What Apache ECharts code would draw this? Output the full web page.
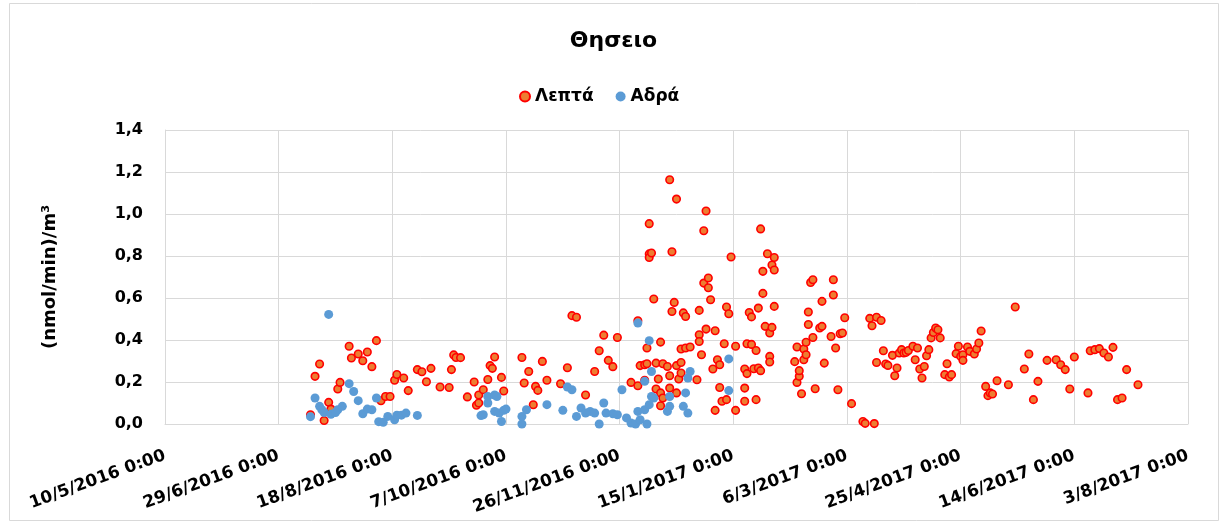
<!DOCTYPE html>
<html>
<head>
<meta charset="utf-8">
<script src="https://cdn.jsdelivr.net/npm/echarts@6/dist/echarts.min.js"></script>
<style>
html,body{margin:0;padding:0;background:#fff;}
#chart{width:1227px;height:523px;}
</style>
</head>
<body>
<div id="chart"></div>
<script>
// Dates are Excel serial day numbers (42500 = 10/5/2016)
const xTickMin = 42500, xTickMax = 42950, xTickStep = 50;
const seriesNames = ['Λεπτά', 'Αδρά'];

const leptaDates = [42564,42566,42568,42570,42572,42573,42576,42577,42581,42582,42585,42587,42589,42591,42593,42595,42597,42599,42601,42602,42605,42607,42611,42613,42615,42617,42621,42625,42626,42627,42628,42630,42633,42636,42637,42638,42638,42640,42642,42643,42644,42645,42648,42649,42657,42658,42660,42662,42663,42664,42666,42668,42674,42677,42679,42681,42685,42689,42691,42693,42695,42697,42699,42705,42708,42708,42709,42711,42711,42712,42712,42713,42713,42714,42713,42715,42716,42716,42717,42718,42718,42719,42718,42719,42721,42722,42722,42722,42723,42723,42724,42725,42725,42725,42726,42727,42727,42727,42728,42729,42729,42731,42734,42735,42735,42735,42736,42737,42737,42738,42738,42739,42739,42740,42741,42742,42742,42743,42744,42744,42745,42746,42747,42747,42748,42749,42751,42751,42755,42755,42755,42756,42756,42757,42758,42758,42759,42760,42761,42760,42761,42762,42762,42763,42763,42764,42765,42766,42766,42766,42767,42767,42768,42768,42768,42777,42778,42778,42779,42779,42780,42781,42781,42782,42782,42783,42783,42784,42785,42785,42786,42788,42789,42789,42790,42793,42794,42794,42795,42796,42797,42798,42799,42802,42807,42808,42812,42810,42811,42813,42815,42813,42816,42817,42818,42820,42821,42822,42823,42824,42825,42826,42827,42829,42831,42830,42832,42833,42834,42835,42836,42837,42838,42839,42840,42841,42843,42844,42845,42846,42848,42849,42850,42851,42851,42853,42854,42856,42857,42858,42859,42861,42862,42863,42864,42866,42871,42874,42878,42880,42882,42884,42888,42892,42894,42896,42898,42900,42906,42907,42909,42911,42913,42915,42917,42919,42921,42923,42928];
const leptaValues = [0.044,0.227,0.286,0.017,0.103,0.071,0.167,0.198,0.37,0.314,0.333,0.301,0.343,0.273,0.397,0.111,0.131,0.131,0.208,0.236,0.219,0.159,0.259,0.249,0.201,0.265,0.176,0.174,0.259,0.329,0.317,0.316,0.129,0.2,0.089,0.1,0.138,0.163,0.212,0.278,0.265,0.319,0.222,0.157,0.317,0.195,0.25,0.092,0.179,0.16,0.298,0.208,0.192,0.268,0.516,0.508,0.138,0.25,0.349,0.423,0.303,0.273,0.412,0.198,0.182,0.492,0.278,0.208,0.282,0.362,0.287,0.81,0.793,0.814,0.954,0.595,0.29,0.167,0.214,0.148,0.087,0.124,0.39,0.287,0.274,0.171,1.163,0.23,0.536,0.82,0.579,1.071,0.278,0.148,0.214,0.357,0.293,0.243,0.529,0.512,0.362,0.367,0.211,0.425,0.393,0.541,0.33,0.92,0.671,1.014,0.452,0.649,0.695,0.592,0.262,0.444,0.065,0.306,0.282,0.174,0.108,0.382,0.116,0.557,0.525,0.795,0.37,0.065,0.171,0.108,0.262,0.24,0.382,0.531,0.51,0.379,0.263,0.116,0.552,0.35,0.267,0.929,0.254,0.622,0.727,0.465,0.811,0.433,0.322,0.295,0.757,0.46,0.793,0.56,0.733,0.297,0.367,0.198,0.227,0.254,0.144,0.357,0.306,0.389,0.33,0.533,0.474,0.674,0.687,0.412,0.168,0.457,0.584,0.465,0.29,0.417,0.687,0.614,0.362,0.163,0.43,0.433,0.506,0.097,0.012,0.003,0.002,0.503,0.468,0.508,0.493,0.293,0.349,0.286,0.279,0.327,0.23,0.267,0.338,0.354,0.338,0.341,0.35,0.37,0.362,0.306,0.262,0.219,0.274,0.325,0.354,0.41,0.436,0.457,0.449,0.41,0.235,0.287,0.224,0.235,0.335,0.37,0.322,0.33,0.303,0.367,0.346,0.333,0.357,0.386,0.443,0.179,0.135,0.148,0.143,0.206,0.187,0.557,0.262,0.333,0.116,0.203,0.303,0.306,0.282,0.259,0.167,0.319,0.148,0.349,0.354,0.359,0.338,0.319,0.365,0.116,0.124,0.259,0.187];

const adraDates = [42564,42566,42568,42569,42570,42572,42573,42575,42576,42578,42581,42583,42585,42587,42589,42591,42593,42594,42596,42598,42601,42602,42604,42606,42611,42639,42640,42642,42642,42645,42645,42646,42647,42648,42649,42650,42657,42657,42659,42668,42675,42677,42679,42681,42683,42685,42687,42689,42691,42693,42694,42697,42699,42701,42703,42705,42707,42708,42708,42709,42711,42711,42712,42713,42714,42714,42715,42713,42721,42722,42722,42728,42729,42730,42731,42730,42748,42748];
const adraValues = [0.035,0.124,0.084,0.068,0.055,0.522,0.046,0.055,0.068,0.084,0.192,0.155,0.111,0.049,0.071,0.068,0.124,0.011,0.008,0.036,0.02,0.042,0.042,0.052,0.041,0.04,0.044,0.1,0.131,0.138,0.06,0.131,0.052,0.012,0.065,0.071,0.0,0.036,0.068,0.092,0.065,0.176,0.163,0.036,0.076,0.052,0.06,0.052,0.0,0.1,0.052,0.049,0.044,0.163,0.029,0.005,0.0,0.481,0.06,0.02,0.203,0.068,0.0,0.397,0.131,0.25,0.124,0.092,0.06,0.084,0.131,0.084,0.148,0.219,0.25,0.052,0.31,0.159];

function pairs(xs, ys){ return xs.map((x,i)=>[x, ys[i]]); }
function serialToLabel(s){
  const d = new Date(Date.UTC(1899,11,30) + Math.round(s)*86400000);
  return d.getUTCDate() + '/' + (d.getUTCMonth()+1) + '/' + d.getUTCFullYear() + ' 0:00';
}
const FONT = 'DejaVu Sans';
const chart = echarts.init(document.getElementById('chart'), null, {renderer:'canvas'});
chart.setOption({
  animation: false,
  backgroundColor: '#ffffff',
  graphic: [{
    type: 'rect', silent: true, z: -10,
    shape: {x: 9.5, y: 3.5, width: 1209, height: 517},
    style: {fill: 'none', stroke: '#d9d9d9', lineWidth: 1}
  }],
  title: {
    text: 'Θησειο', left: 'center', top: 25,
    textStyle: {fontFamily: FONT, fontWeight: 'bold', fontSize: 22, color: '#000'}
  },
  legend: {
    data: seriesNames, left: 514, top: 83, itemGap: 22,
    itemWidth: 10, itemHeight: 10,
    textStyle: {fontFamily: FONT, fontWeight: 'bold', fontSize: 17, color: '#000'}
  },
  grid: {left: 165, right: 39, top: 130, bottom: 99, containLabel: false},
  xAxis: {
    type: 'value', min: xTickMin, max: xTickMax, interval: xTickStep,
    axisLine: {show: true, lineStyle: {color: '#d9d9d9'}},
    axisTick: {show: false},
    splitLine: {show: true, lineStyle: {color: '#d9d9d9'}},
    axisLabel: {
      rotate: 20, margin: 31, formatter: serialToLabel,
      fontFamily: FONT, fontWeight: 'bold', fontSize: 17, color: '#000',
      showMinLabel: true, showMaxLabel: true
    }
  },
  yAxis: {
    type: 'value', min: 0, max: 1.4, interval: 0.2,
    name: '(nmol/min)/m³', nameLocation: 'middle', nameGap: 106, nameRotate: 90,
    nameTextStyle: {fontFamily: FONT, fontWeight: 'bold', fontSize: 18, color: '#000'},
    axisLine: {show: true, lineStyle: {color: '#d9d9d9'}},
    axisTick: {show: false},
    splitLine: {show: true, lineStyle: {color: '#d9d9d9'}},
    axisLabel: {
      margin: 22, formatter: v => v.toFixed(1).replace('.', ','),
      fontFamily: FONT, fontWeight: 'bold', fontSize: 16, color: '#000'
    }
  },
  series: [
    {
      name: seriesNames[0], type: 'scatter', symbol: 'circle', symbolSize: 7.5,
      itemStyle: {color: '#ED7D31', borderColor: '#FF0000', borderWidth: 1.6, opacity: 1},
      data: pairs(leptaDates, leptaValues)
    },
    {
      name: seriesNames[1], type: 'scatter', symbol: 'circle', symbolSize: 9,
      itemStyle: {color: '#5B9BD5', opacity: 1},
      data: pairs(adraDates, adraValues)
    }
  ]
});
</script>
</body>
</html>
